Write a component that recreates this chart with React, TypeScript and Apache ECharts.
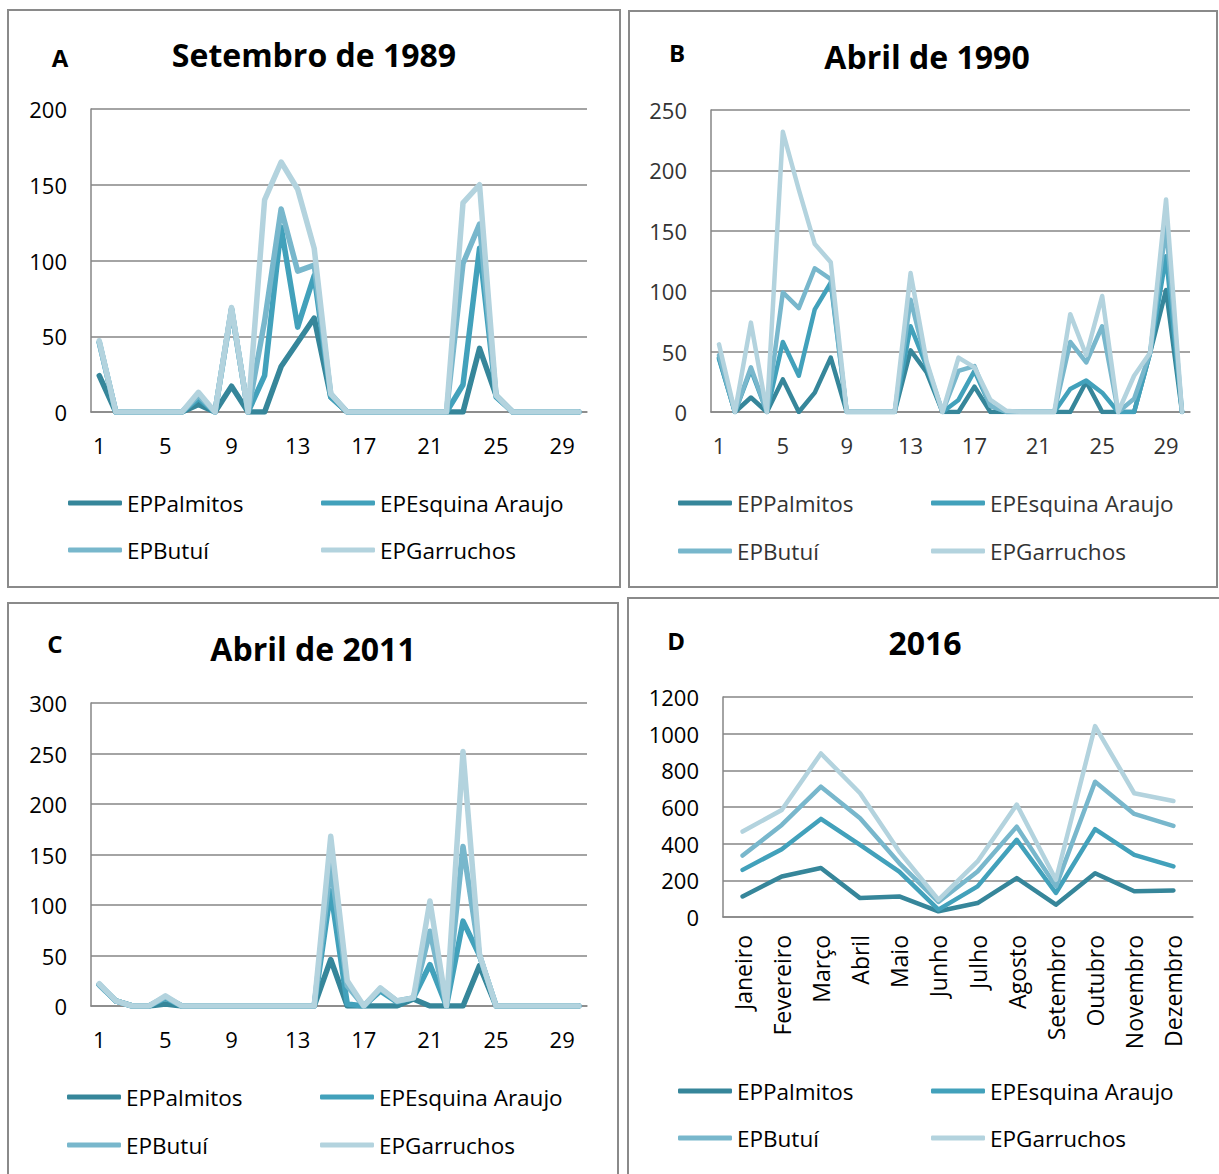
import React, { useEffect, useRef } from "react";
import * as echarts from "echarts";

const seriesNames = ["EPPalmitos", "EPEsquina Araujo", "EPButuí", "EPGarruchos"];
const seriesColors = ["#36869a", "#42a1bb", "#78b7cc", "#b3d3de"];

const days = ["1","2","3","4","5","6","7","8","9","10","11","12","13","14","15","16","17","18","19","20","21","22","23","24","25","26","27","28","29","30"];
const months = ["Janeiro","Fevereiro","Março","Abril","Maio","Junho","Julho","Agosto","Setembro","Outubro","Novembro","Dezembro"];

// Panel A – Setembro de 1989
const a_Palmitos = [24,0,0,0,0,0,5,0,17,0,0,30,46,62,10,0,0,0,0,0,0,0,0,42,11,0,0,0,0,0];
const a_Esquina = [46,0,0,0,0,0,9,0,68,0,24,122,56,90,10,0,0,0,0,0,0,0,18,108,10,0,0,0,0,0];
const a_Butui = [46,0,0,0,0,0,11,0,68,0,60,134,93,97,12,0,0,0,0,0,0,0,98,124,11,0,0,0,0,0];
const a_Garruchos = [47,0,0,0,0,0,13,0,69,0,140,165,147,108,12,0,0,0,0,0,0,0,138,150,11,0,0,0,0,0];

// Panel B – Abril de 1990
const b_Palmitos = [45,0,12,0,27,0,16,45,0,0,0,0,51,33,0,0,21,0,0,0,0,0,0,25,0,0,0,49,101,0];
const b_Esquina = [44,0,35,0,58,30,85,107,0,0,0,0,71,38,0,10,34,5,0,0,0,0,19,26,16,0,0,49,129,0];
const b_Butui = [47,0,37,0,99,86,119,110,0,0,0,0,93,40,0,34,38,5,0,0,0,0,58,41,71,0,11,49,154,0];
const b_Garruchos = [56,0,74,0,232,184,139,124,0,0,0,0,115,42,0,45,37,10,1,0,0,0,81,47,96,0,30,49,176,0];

// Panel C – Abril de 2011
const c_Palmitos = [21,5,0,0,2,0,0,0,0,0,0,0,0,0,46,0,0,0,0,7,0,0,0,40,0,0,0,0,0,0];
const c_Esquina = [21,5,0,0,8,0,0,0,0,0,0,0,0,0,114,2,0,15,4,8,41,0,84,50,0,0,0,0,0,0];
const c_Butui = [21,5,0,0,9,0,0,0,0,0,0,0,0,0,140,20,0,17,5,8,74,0,158,50,0,0,0,0,0,0];
const c_Garruchos = [22,5,0,0,10,0,0,0,0,0,0,0,0,0,168,25,0,18,5,8,104,0,252,51,0,0,0,0,0,0];

// Panel D – 2016
const d_Palmitos = [112,221,267,103,112,31,76,212,67,239,140,145];
const d_Esquina = [257,370,535,393,248,40,167,421,131,479,339,276];
const d_Butui = [335,502,711,539,294,82,248,493,167,738,562,497];
const d_Garruchos = [466,584,892,675,357,94,303,613,203,1041,675,633];

const FONT = "'Open Sans', 'DejaVu Sans', sans-serif";

type Panel = {
  letter: string;
  title: string;
  box: [number, number, number, number];
  grid: { left: number; top: number; width: number; height: number };
  letterPos: [number, number];
  titlePos: [number, number];
  max: number;
  interval: number;
  cats: string[];
  monthly: boolean;
  data: number[][];
  lineWidth: number;
  legendLeft: [number, number];
  legendRowY: number;
  legendGap: number;
  textColor: string;
};

const panels: Panel[] = [
  {
    letter: "A", title: "Setembro de 1989", box: [8, 10, 612, 577],
    grid: { left: 91, top: 109, width: 496, height: 303 },
    letterPos: [60, 57], titlePos: [314, 54], max: 200, interval: 50,
    cats: days, monthly: false,
    data: [a_Palmitos, a_Esquina, a_Butui, a_Garruchos], lineWidth: 5.5,
    legendLeft: [68, 321], legendRowY: 503, legendGap: 47, textColor: "#000",
  },
  {
    letter: "B", title: "Abril de 1990", box: [629, 11, 588, 576],
    grid: { left: 711, top: 110, width: 479, height: 302 },
    letterPos: [677, 52], titlePos: [927, 56], max: 250, interval: 50,
    cats: days, monthly: false,
    data: [b_Palmitos, b_Esquina, b_Butui, b_Garruchos], lineWidth: 4.5,
    legendLeft: [678, 931], legendRowY: 503, legendGap: 48, textColor: "#333",
  },
  {
    letter: "C", title: "Abril de 2011", box: [8, 603, 610, 590],
    grid: { left: 91, top: 703, width: 496, height: 303 },
    letterPos: [55, 643], titlePos: [313, 648], max: 300, interval: 50,
    cats: days, monthly: false,
    data: [c_Palmitos, c_Esquina, c_Butui, c_Garruchos], lineWidth: 5.5,
    legendLeft: [67, 320], legendRowY: 1097, legendGap: 48, textColor: "#000",
  },
  {
    letter: "D", title: "2016", box: [628, 598, 600, 600],
    grid: { left: 723, top: 697, width: 470, height: 220 },
    letterPos: [676, 640], titlePos: [925, 642], max: 1200, interval: 200,
    cats: months, monthly: true,
    data: [d_Palmitos, d_Esquina, d_Butui, d_Garruchos], lineWidth: 4.5,
    legendLeft: [678, 931], legendRowY: 1091, legendGap: 47, textColor: "#000",
  },
];

function buildOption() {
  const grids: any[] = [];
  const xAxes: any[] = [];
  const yAxes: any[] = [];
  const series: any[] = [];
  const legends: any[] = [];
  const graphics: any[] = [];

  panels.forEach((p, i) => {
    grids.push({ ...p.grid, containLabel: false });
    xAxes.push({
      type: "category",
      gridIndex: i,
      data: p.cats,
      boundaryGap: true,
      axisLine: { show: true, lineStyle: { color: "#868686", width: 1.5 } },
      axisTick: { show: false },
      axisLabel: p.monthly
        ? { interval: 0, rotate: 90, margin: 18, fontSize: 23, fontFamily: FONT, color: p.textColor }
        : { interval: 3, margin: 22, fontSize: 22, fontFamily: FONT, color: p.textColor },
      splitLine: { show: false },
    });
    yAxes.push({
      type: "value",
      gridIndex: i,
      min: 0,
      max: p.max,
      interval: p.interval,
      axisLine: { show: true, lineStyle: { color: "#868686", width: 1.5 } },
      axisTick: { show: false },
      axisLabel: {
        margin: 24, fontSize: 22, fontFamily: FONT, color: p.textColor,
        formatter: (v: number) => String(v),
      },
      splitLine: { show: true, lineStyle: { color: "#868686", width: 1.5 } },
    });
    p.data.forEach((vals, k) => {
      series.push({
        type: "line",
        name: seriesNames[k],
        xAxisIndex: i,
        yAxisIndex: i,
        data: vals,
        showSymbol: false,
        symbol: "none",
        lineStyle: { color: seriesColors[k], width: p.lineWidth, join: "round", cap: "round" },
        itemStyle: { color: seriesColors[k] },
        z: 2 + k,
      });
    });
    const lh = 26;
    [0, 1].forEach((col) => {
      legends.push({
        orient: "vertical",
        left: p.legendLeft[col],
        top: p.legendRowY - lh / 2,
        padding: 0,
        itemGap: p.legendGap - lh,
        itemWidth: 54,
        itemHeight: 5,
        icon: "roundRect",
        selectedMode: false,
        data: col === 0 ? [seriesNames[0], seriesNames[2]] : [seriesNames[1], seriesNames[3]],
        textStyle: { fontSize: 22.5, fontFamily: FONT, color: p.textColor, lineHeight: lh },
      });
    });
    graphics.push({
      type: "rect",
      shape: { x: p.box[0], y: p.box[1], width: p.box[2], height: p.box[3] },
      style: { fill: "none", stroke: "#8a8a8a", lineWidth: 2 },
      z: 0,
    });
    graphics.push({
      type: "text",
      x: p.letterPos[0],
      y: p.letterPos[1],
      style: { text: p.letter, fontSize: 24, fontWeight: "bold", fontFamily: FONT, fill: "#000", textAlign: "center", textVerticalAlign: "middle" },
    });
    graphics.push({
      type: "text",
      x: p.titlePos[0],
      y: p.titlePos[1],
      style: { text: p.title, fontSize: 32, fontWeight: "bold", fontFamily: FONT, fill: "#000", textAlign: "center", textVerticalAlign: "middle" },
    });
  });

  return {
    animation: false,
    backgroundColor: "#ffffff",
    grid: grids,
    xAxis: xAxes,
    yAxis: yAxes,
    legend: legends,
    series,
    graphic: graphics,
  };
}

export default function App() {
  const ref = useRef<HTMLDivElement>(null);
  useEffect(() => {
    if (!ref.current) return;
    const chart = echarts.init(ref.current, null, { renderer: "svg" });
    chart.setOption(buildOption() as any);
    return () => chart.dispose();
  }, []);
  return (
    <div
      ref={ref}
      style={{ position: "absolute", left: 0, top: 0, width: 1219, height: 1174, background: "#fff" }}
    />
  );
}
